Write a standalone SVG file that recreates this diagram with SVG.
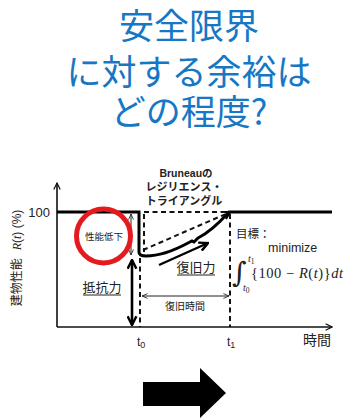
<svg xmlns="http://www.w3.org/2000/svg" width="346" height="418" viewBox="0 0 346 418">
<defs>
<style>
.title{font-family:"Noto Sans CJK JP","Noto Sans",sans-serif;font-size:35px;fill:#1677c5;text-anchor:middle}
.jp{font-family:"Noto Sans CJK JP","Noto Sans",sans-serif;fill:#222}
.lat{font-family:"Liberation Sans","Noto Sans",sans-serif;fill:#222}
.math{font-family:"Liberation Serif","DejaVu Serif",serif;fill:#222}
.axis{stroke:#111;stroke-width:1.6;fill:none}
.thick{stroke:#000;stroke-width:3;fill:none}
.dash{stroke:#111;stroke-width:2;stroke-dasharray:5 3.5;fill:none}
.thin{stroke:#222;stroke-width:1;fill:none}
</style>
<marker id="av" viewBox="0 0 10 10" refX="9" refY="5" markerWidth="8" markerHeight="8" orient="auto-start-reverse" markerUnits="userSpaceOnUse">
<path d="M1,1 L9,5 L1,9" fill="none" stroke="#111" stroke-width="1.5"/>
</marker>
<marker id="avs" viewBox="0 0 10 10" refX="9" refY="5" markerWidth="7" markerHeight="7" orient="auto-start-reverse" markerUnits="userSpaceOnUse">
<path d="M1,1.5 L9,5 L1,8.5" fill="none" stroke="#222" stroke-width="1.2"/>
</marker>
<marker id="avt" viewBox="0 0 10 10" refX="9" refY="5" markerWidth="11" markerHeight="11" orient="auto-start-reverse" markerUnits="userSpaceOnUse">
<path d="M1,1 L9,5 L1,9" fill="none" stroke="#000" stroke-width="2.2"/>
</marker>
</defs>

<g id="title">
<text class="title" x="189" y="39">安全限界</text>
<text class="title" x="189" y="85">に対する余裕は</text>
<text class="title" x="189" y="125">どの程度?</text>
</g>

<g id="connectors">
<line class="axis" x1="57" y1="327" x2="57" y2="183" marker-end="url(#av)"/>
<line class="axis" x1="57" y1="327" x2="332" y2="327" marker-end="url(#av)"/>
<path class="thick" d="M57,212 H139 V252 Q139,256 146,256 C160,256 175,250 188,243 L192,241 L194,242 L198,238 C210,232 220,222 229,212 H332"/>
<path d="M222,212 L230,212 L226,219" fill="none" stroke="#000" stroke-width="2.2"/>
<path class="dash" d="M144,212 H230"/>
<path class="dash" d="M144,214 V252"/>
<path class="dash" d="M140,258 V327"/>
<path class="dash" d="M143,250 L228,213"/>
<path class="dash" d="M230,214 V327"/>
<line x1="159" y1="265" x2="208" y2="243" stroke="#000" stroke-width="2.4" marker-end="url(#avt)"/>
<line class="thin" x1="131" y1="214" x2="131" y2="255" marker-start="url(#avs)" marker-end="url(#avs)"/>
<line x1="132" y1="260" x2="132" y2="325" stroke="#000" stroke-width="2.6" marker-start="url(#avt)" marker-end="url(#avt)"/>
<line class="thin" x1="142" y1="296" x2="229" y2="296" marker-start="url(#avs)" marker-end="url(#avs)"/>
</g>

<g id="ylabel">
<text class="lat" x="50" y="216.5" font-size="13" text-anchor="end">100</text>
<text transform="translate(21,258) rotate(-90)" text-anchor="middle" font-size="12"><tspan class="jp">建物性能</tspan><tspan class="math" font-style="italic" dx="8">R</tspan><tspan class="lat">(</tspan><tspan class="math" font-style="italic">t</tspan><tspan class="lat">) (%)</tspan></text>
</g>

<g id="triangle-label">
<text class="lat" x="186" y="177" font-size="10.5" font-weight="bold" text-anchor="middle">Bruneau<tspan class="jp">の</tspan></text>
<text class="jp" x="184" y="191" font-size="11" font-weight="bold" text-anchor="middle">レジリエンス・</text>
<text class="jp" x="184" y="205" font-size="11" font-weight="bold" text-anchor="middle">トライアングル</text>
</g>

<g id="drop">
<circle cx="103.5" cy="236" r="27" fill="none" stroke="#e51a1f" stroke-width="5"/>
<text class="jp" x="104" y="239.5" font-size="9.5" text-anchor="middle">性能低下</text>
</g>

<g id="resistance">
<text class="jp" x="102" y="292" font-size="13" text-anchor="middle">抵抗力</text>
<line x1="83" y1="295" x2="121" y2="295" stroke="#222" stroke-width="1"/>
</g>

<g id="recovery">
<text class="jp" x="196" y="272" font-size="13" text-anchor="middle">復旧力</text>
<line x1="177" y1="275" x2="215" y2="275" stroke="#222" stroke-width="1"/>
</g>

<g id="recovery-time">
<text class="jp" x="185" y="310" font-size="10" text-anchor="middle">復旧時間</text>
</g>

<g id="goal">
<text class="jp" x="236" y="238" font-size="11.5">目標：</text>
<text class="lat" x="268" y="252" font-size="12.5">minimize</text>
<text x="232" y="282" font-family="DejaVu Serif, serif" font-size="28" fill="#222">∫</text>
<text class="math" x="248" y="262" font-size="10" font-style="italic">t<tspan font-size="7.5" font-style="normal" dy="2">1</tspan></text>
<text class="math" x="243" y="291" font-size="10" font-style="italic">t<tspan font-size="7.5" font-style="normal" dy="2">0</tspan></text>
<text class="math" x="251" y="278" font-size="14.5" textLength="92" lengthAdjust="spacing">{100 − <tspan font-style="italic">R</tspan>(<tspan font-style="italic">t</tspan>)}<tspan font-style="italic">dt</tspan></text>
</g>

<g id="xlabels">
<text class="lat" x="137" y="346" font-size="12">t<tspan font-size="9" dy="2">0</tspan></text>
<text class="lat" x="227" y="346" font-size="12">t<tspan font-size="9" dy="2">1</tspan></text>
<text class="jp" x="317" y="345" font-size="14" text-anchor="middle">時間</text>
</g>

<g id="big-arrow">
<polygon points="143,382 200,382 200,368 226,393 200,418 200,406 143,406" fill="#000"/>
</g>
</svg>
